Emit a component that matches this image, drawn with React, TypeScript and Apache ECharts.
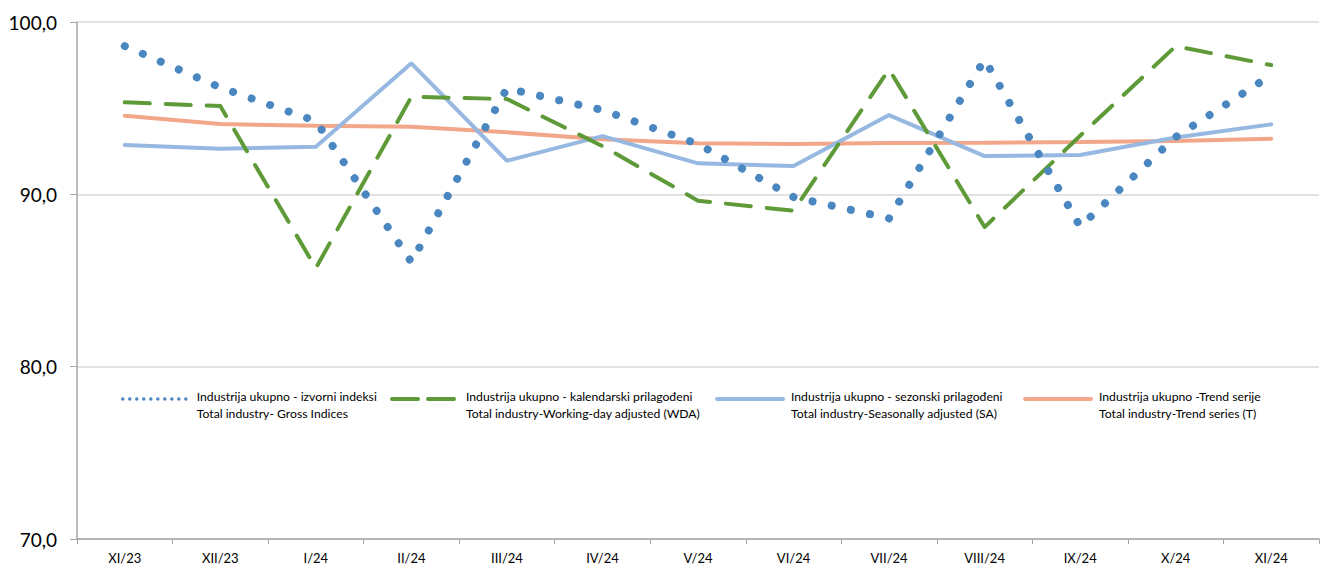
import React, { useEffect, useRef } from "react";
import * as echarts from "echarts";

const categories = ["XI/23", "XII/23", "I/24", "II/24", "III/24", "IV/24", "V/24", "VI/24", "VII/24", "VIII/24", "IX/24", "X/24", "XI/24"];
const grossIndices = [98.6, 96.2, 94.25, 86.07, 96.15, 94.89, 92.92, 89.84, 88.6, 97.82, 88.13, 93.33, 96.92];
const workingDayAdjusted = [95.34, 95.12, 85.72, 95.66, 95.53, 92.8, 89.63, 89.05, 97.25, 88.1, 93.4, 98.6, 97.5];
const seasonallyAdjusted = [92.86, 92.65, 92.76, 97.6, 91.95, 93.38, 91.8, 91.64, 94.6, 92.22, 92.28, 93.3, 94.06];
const trendSeries = [94.56, 94.08, 93.98, 93.92, 93.6, 93.2, 92.96, 92.92, 92.98, 93.0, 93.03, 93.1, 93.23];

const seriesNames = [
  "Industrija ukupno - izvorni indeksi\nTotal industry- Gross Indices",
  "Industrija ukupno - kalendarski prilagođeni\nTotal industry-Working-day adjusted (WDA)",
  "Industrija ukupno - sezonski prilagođeni\nTotal industry-Seasonally adjusted (SA)",
  "Industrija ukupno -Trend serije\nTotal industry-Trend series (T)",
];
const legendLefts = [116, 385, 710, 1018];

const COLORS = ["#4A86BF", "#5E9A38", "#96B8E1", "#F3A78A"];
const LEGEND_LINES: any[] = [
  { width: 3.5, type: [0.01, 7], cap: "round" },
  { width: 4, type: [26, 10], cap: "round" },
  { width: 4, type: "solid", cap: "round" },
  { width: 4, type: "solid", cap: "round" },
];

const FONT = "Lato, 'Liberation Sans', sans-serif";
const LEGEND_FS = 12.2;

export default function App() {
  const ref = useRef<HTMLDivElement>(null);
  useEffect(() => {
    if (!ref.current) return;
    const chart = echarts.init(ref.current, undefined, { renderer: "svg" });
    const legends = seriesNames.map((name, i) => ({
      data: [name],
      left: legendLefts[i],
      top: 385,
      orient: "horizontal",
      itemWidth: 66,
      itemHeight: 10,
      itemGap: 0,
      selectedMode: false,
      itemStyle: { opacity: 0 },
      lineStyle: { ...LEGEND_LINES[i], color: COLORS[i] },
      formatter: (n: string) => {
        const [a, b] = n.split("\n");
        return `{a|${a}}\n{b|${b}}`;
      },
      textStyle: {
        fontFamily: FONT,
        fontSize: LEGEND_FS,
        color: "#000",
        padding: [0, 0, 0, 3],
        rich: {
          a: { fontFamily: FONT, fontSize: LEGEND_FS, color: "#000", lineHeight: 28 },
          b: { fontFamily: FONT, fontSize: LEGEND_FS, color: "#000", lineHeight: 6 },
        },
      },
    }));
    chart.setOption({
      animation: false,
      textStyle: { fontFamily: FONT },
      grid: { left: 77, right: 8, top: 22, bottom: 27, containLabel: false },
      legend: legends,
      xAxis: {
        type: "category",
        data: categories,
        boundaryGap: true,
        axisLine: { lineStyle: { color: "#A6A6A6", width: 1.5 } },
        axisTick: { show: true, length: 5, lineStyle: { color: "#A6A6A6" } },
        axisLabel: { color: "#000", fontSize: 13, margin: 12, fontFamily: FONT },
        splitLine: { show: false },
      },
      yAxis: {
        type: "value",
        min: 70,
        max: 100,
        interval: 10,
        axisLine: { show: true, lineStyle: { color: "#A6A6A6", width: 1.5 } },
        axisTick: { show: true, length: 7, lineStyle: { color: "#A6A6A6" } },
        axisLabel: {
          color: "#000",
          fontSize: 19,
          margin: 20,
          fontFamily: FONT,
          formatter: (v: number) => v.toFixed(1).replace(".", ","),
        },
        splitLine: { show: true, lineStyle: { color: "#D9D9D9", width: 1.5 } },
      },
      series: [
        {
          name: seriesNames[0],
          type: "line",
          data: grossIndices,
          symbol: "none",
          z: 5,
          lineStyle: { color: COLORS[0], width: 8, type: [0.01, 19.6], cap: "round", join: "round" },
          itemStyle: { color: COLORS[0] },
        },
        {
          name: seriesNames[1],
          type: "line",
          data: workingDayAdjusted,
          symbol: "none",
          z: 4,
          lineStyle: { color: COLORS[1], width: 4, type: [25, 16], cap: "round", join: "round" },
          itemStyle: { color: COLORS[1] },
        },
        {
          name: seriesNames[2],
          type: "line",
          data: seasonallyAdjusted,
          symbol: "none",
          z: 3,
          lineStyle: { color: COLORS[2], width: 4, cap: "round" },
          itemStyle: { color: COLORS[2] },
        },
        {
          name: seriesNames[3],
          type: "line",
          data: trendSeries,
          symbol: "none",
          z: 2,
          lineStyle: { color: COLORS[3], width: 4, cap: "round" },
          itemStyle: { color: COLORS[3] },
        },
      ],
    });
    return () => chart.dispose();
  }, []);
  return (
    <div
      ref={ref}
      style={{ position: "absolute", left: 0, top: 0, width: 1327, height: 566 }}
    />
  );
}
